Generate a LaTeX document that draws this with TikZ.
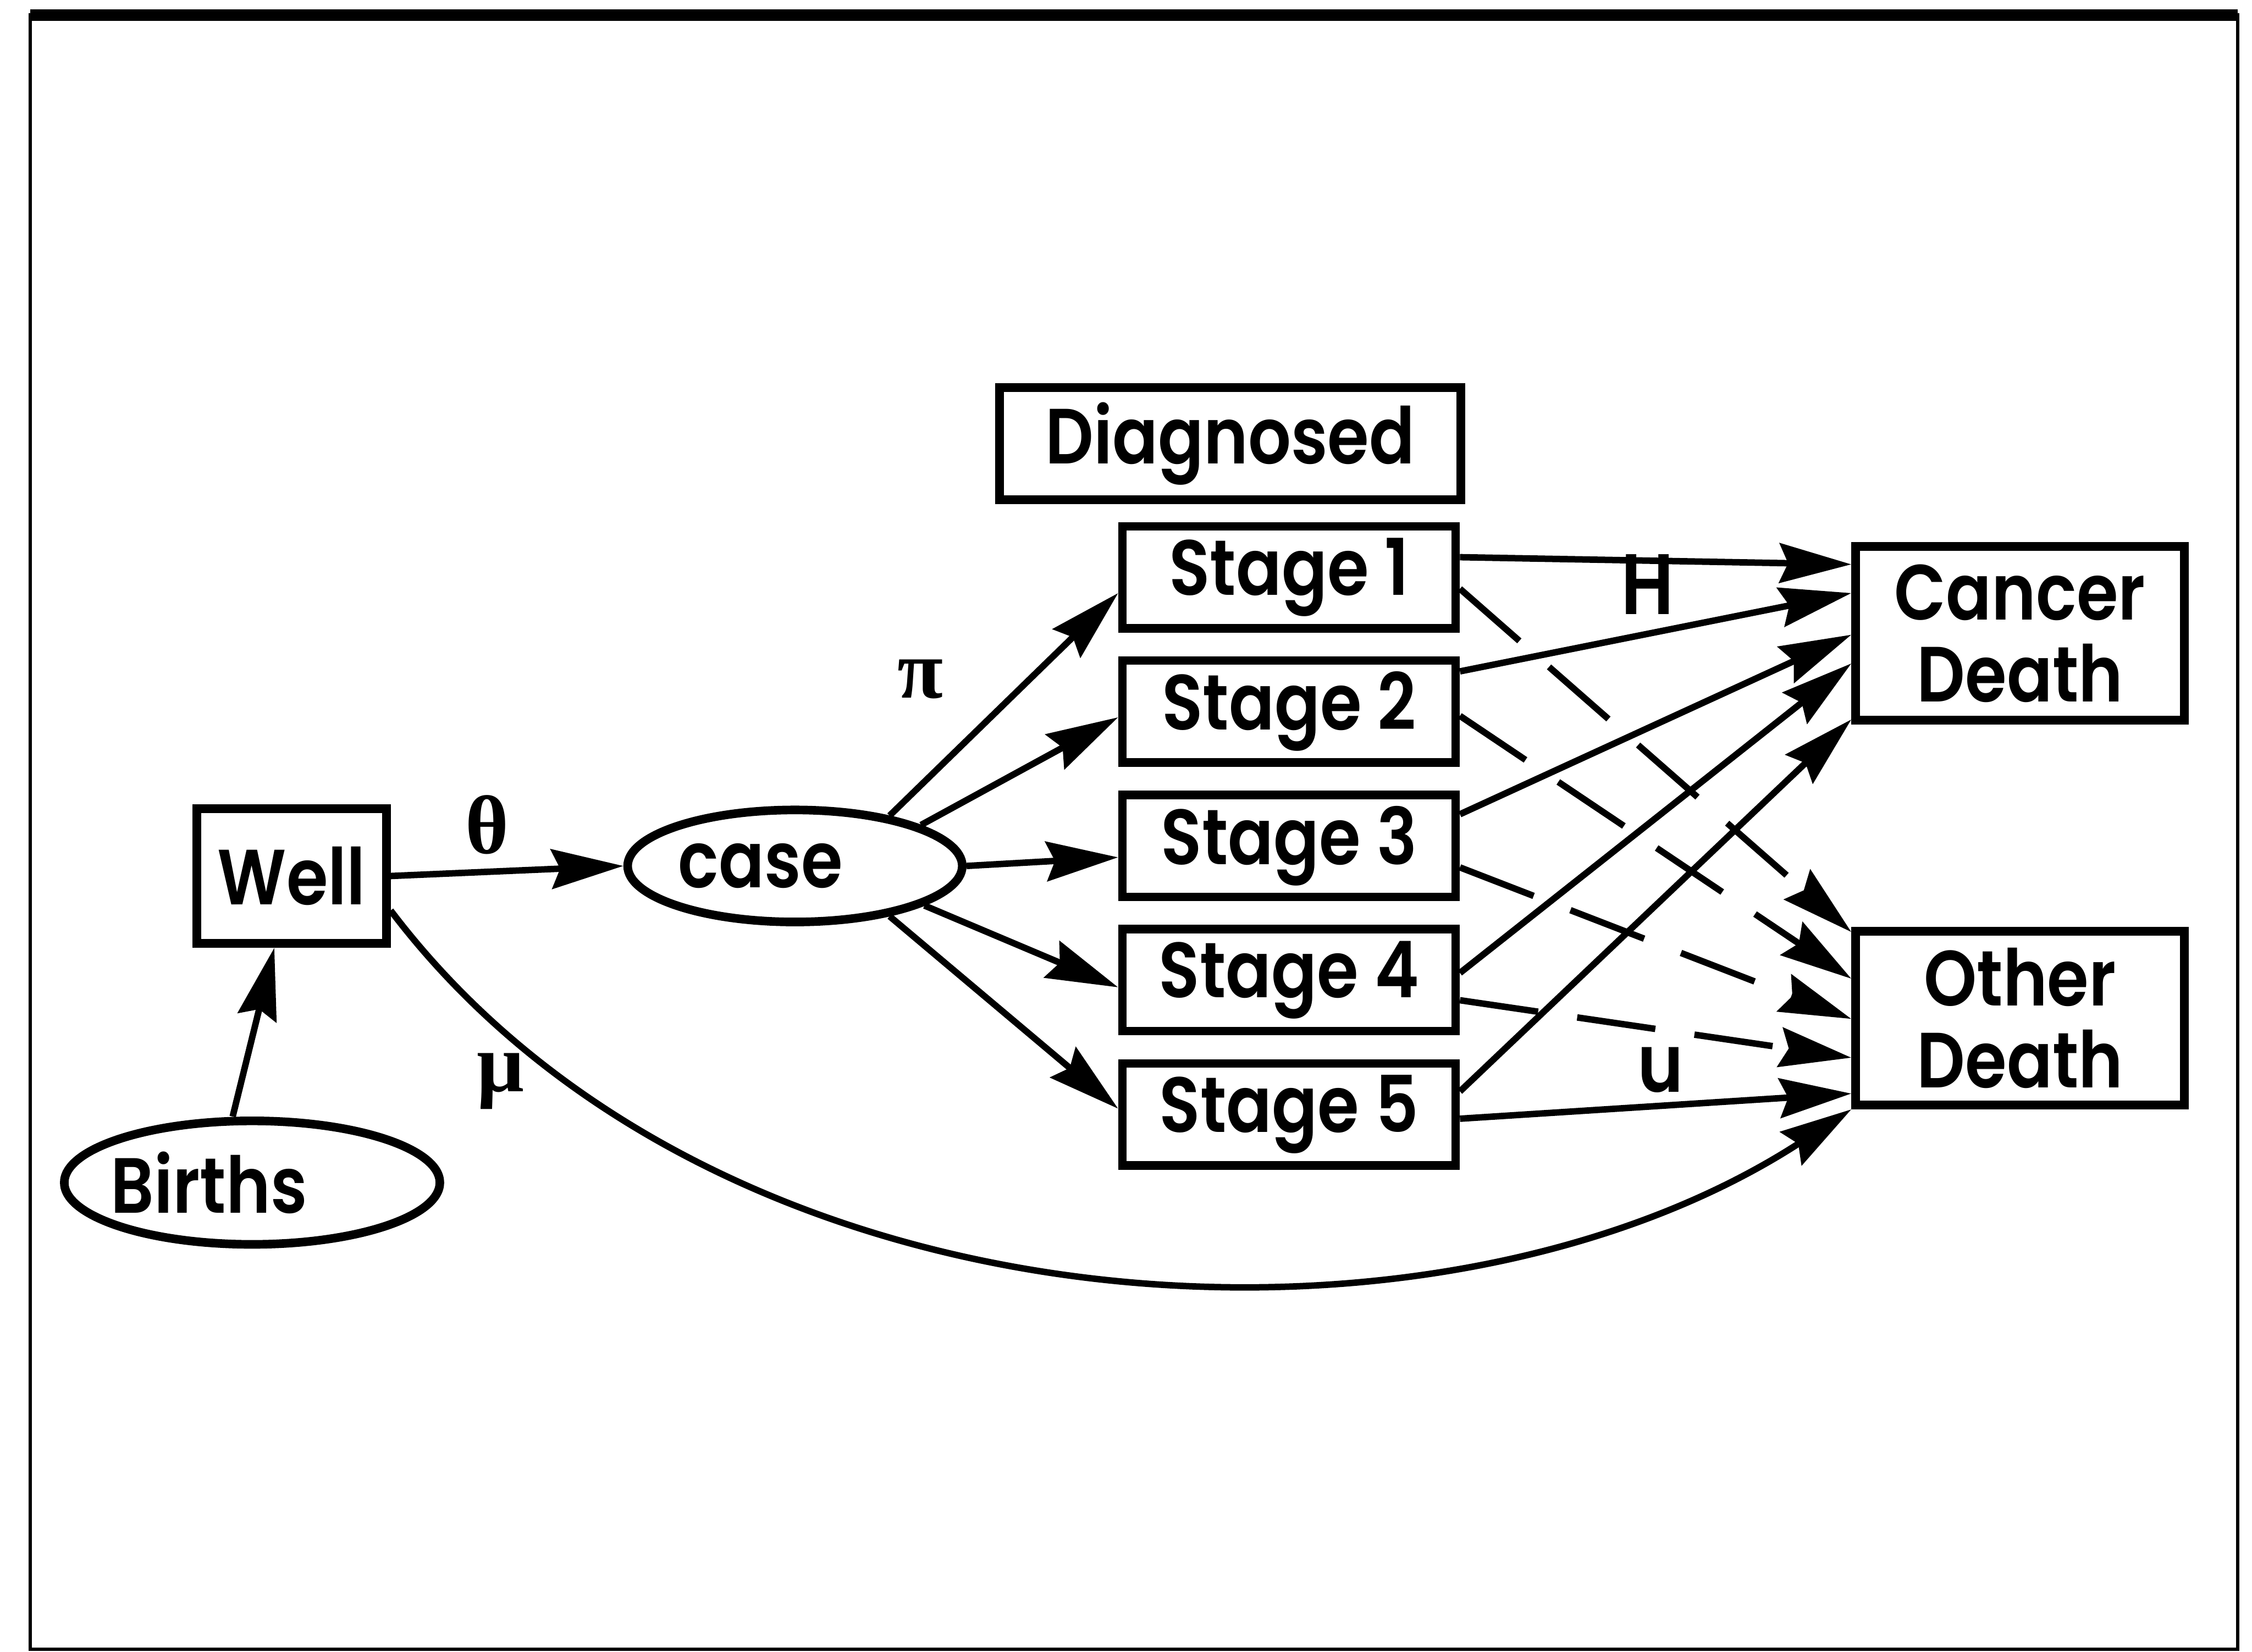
\documentclass[tikz,border=0pt]{standalone}
\usepackage{fontspec}
\setmainfont{Poppins}[BoldFont={Poppins SemiBold}, FakeStretch=0.86]
\newfontfamily\greekfont{Liberation Serif}
\usetikzlibrary{arrows.meta,shapes.geometric}
\tikzset{
  box/.style={draw, line width=0.12cm, inner sep=0pt, align=center},
  stagebox/.style={box, minimum width=4.64cm, minimum height=1.42cm},
  deathbox/.style={box, minimum width=4.58cm, minimum height=2.42cm},
  oval/.style={draw, ellipse, line width=0.12cm, inner sep=0pt},
  link/.style={->, line width=0.09cm},
  dashlink/.style={link, dash pattern=on 1.1cm off 0.55cm},
  rate/.style={inner sep=0pt, font=\greekfont\fontsize{33}{35}\selectfont\bfseries}
}
\begin{document}
\begin{tikzpicture}[>={Stealth[length=1cm,width=0.55cm,inset=0.12cm]},
    font=\fontsize{31}{32.4}\selectfont\bfseries]
  \useasboundingbox (0,0) rectangle (31.36,23);
  % frame
  \draw[line width=0.05cm] (0.42,0.03) rectangle (31.16,22.79);
  \draw[line width=0.16cm] (0.42,22.79) -- (31.16,22.79);
  % states
  \node[box, minimum width=2.64cm, minimum height=1.88cm] (well) at (4.06,10.8) {Well};
  \node[oval, minimum width=5.23cm, minimum height=1.72cm] (births) at (3.51,6.53) {\hspace*{-1.2cm}Births};
  \node[oval, minimum width=4.66cm, minimum height=1.56cm] (case) at (11.07,10.94) {\hspace*{-0.96cm}case};
  \node[box, minimum width=6.42cm, minimum height=1.56cm] (diag) at (17.13,16.82) {Diagnosed};
  \node[stagebox] (s1) at (17.95,14.96) {Stage 1};
  \node[stagebox] (s2) at (17.95,13.09) {Stage 2};
  \node[stagebox] (s3) at (17.95,11.22) {Stage 3};
  \node[stagebox] (s4) at (17.95,9.35) {Stage 4};
  \node[stagebox] (s5) at (17.95,7.48) {Stage 5};
  \node[deathbox] (cancer) at (28.13,14.18) {Cancer\\Death};
  \node[deathbox] (other) at (28.13,8.82) {Other\\Death};
  % entry and onset
  \draw[link] ([xshift=-0.27cm]births.north) -- ([xshift=-0.24cm]well.south);
  \draw[link] (well.east) -- (case.west);
  \draw[link] ([yshift=-0.48cm]well.east) .. controls (10.0,4.3) and (20.0,3.8) .. (other.south west);
  % stage at diagnosis
  \draw[link] (case.28) -- ([yshift=-0.22cm]s1.west);
  \draw[link] (case.18) -- ([yshift=-0.08cm]s2.west);
  \draw[link] (case.0) -- ([yshift=-0.16cm]s3.west);
  \draw[link] (case.-17) -- ([yshift=-0.1cm]s4.west);
  \draw[link] (case.-28) -- ([yshift=0.08cm]s5.west);
  % cancer deaths
  \draw[link] ([yshift=0.28cm]s1.east) -- ([yshift=0.96cm]cancer.west);
  \draw[link] ([yshift=0.56cm]s2.east) -- ([yshift=0.56cm]cancer.west);
  \draw[link] ([yshift=0.44cm]s3.east) -- ([yshift=-0.02cm]cancer.west);
  \draw[link] ([yshift=0.1cm]s4.east) -- ([yshift=-0.42cm]cancer.west);
  \draw[link] ([yshift=0.32cm]s5.east) -- ([yshift=-1.2cm]cancer.west);
  % other deaths
  \draw[dashlink] ([yshift=-0.16cm]s1.east) -- ([yshift=1.2cm]other.west);
  \draw[dashlink] ([yshift=-0.06cm]s2.east) -- ([yshift=0.55cm]other.west);
  \draw[dashlink] ([yshift=-0.3cm]s3.east) -- ([yshift=-0.01cm]other.west);
  \draw[dashlink] ([yshift=-0.28cm]s4.east) -- ([yshift=-0.55cm]other.west);
  \draw[link] ([yshift=-0.06cm]s5.east) -- ([yshift=-1.05cm]other.west);
  % rates
  \node[rate] (theta) at (6.78,11.51) {θ};
  \node[rate] (pi) at (12.82,13.54) {π};
  \node[rate] (mu) at (6.97,7.94) {μ};
  \node[inner sep=0pt, font=\fontsize{34}{36}\selectfont\bfseries] (hrate) at (22.94,14.86) {H};
  \node[inner sep=0pt, font=\fontsize{32}{34}\selectfont\bfseries] (urate) at (23.12,8.1) {u};
\end{tikzpicture}
\end{document}
